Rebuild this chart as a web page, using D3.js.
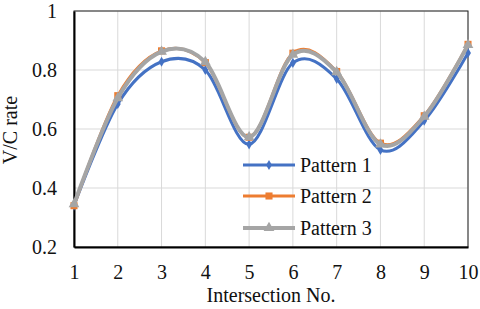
<!DOCTYPE html>
<html><head><meta charset="utf-8">
<script src="https://cdn.jsdelivr.net/npm/d3@7"></script>
<style>body{margin:0;background:#fff}svg{display:block}</style>
</head><body><svg id="c" width="480" height="309"></svg>
<script>
const intersections = [1,2,3,4,5,6,7,8,9,10];
const pattern1 = [0.34,0.685,0.828,0.80,0.548,0.824,0.77,0.529,0.628,0.858];
const pattern2 = [0.34,0.713,0.865,0.825,0.572,0.857,0.795,0.552,0.645,0.887];
const pattern3 = [0.345,0.705,0.862,0.827,0.572,0.852,0.793,0.548,0.642,0.885];
const yTicks = [0.2,0.4,0.6,0.8,1];
const seriesNames = ["Pattern 1","Pattern 2","Pattern 3"];
const colors = ["#4472C4","#ED7D31","#A5A5A5"];
const FONT = "Liberation Serif";

const svg = d3.select("#c");
const x = d3.scaleLinear().domain([1,10]).range([74,468]);
const y = d3.scaleLinear().domain([0.2,1]).range([247,11]);

// gridlines
svg.append("g").selectAll("line").data(intersections.slice(1)).join("line")
  .attr("x1",d=>x(d)).attr("x2",d=>x(d)).attr("y1",y(1)).attr("y2",y(0.2))
  .attr("stroke","#d9d9d9").attr("stroke-width",1);
svg.append("g").selectAll("line").data(yTicks.slice(1)).join("line")
  .attr("x1",x(1)).attr("x2",x(10)).attr("y1",d=>y(d)).attr("y2",d=>y(d))
  .attr("stroke","#d9d9d9").attr("stroke-width",1);
// border
svg.append("rect").attr("x",x(1)).attr("y",y(1)).attr("width",x(10)-x(1)).attr("height",y(0.2)-y(1))
  .attr("fill","none").attr("stroke","#222").attr("stroke-width",1);

// axes
const xAxis = d3.axisBottom(x).tickValues(intersections).tickSize(0).tickPadding(18).tickFormat(d3.format("d"));
const gx = svg.append("g").attr("transform",`translate(0,${y(0.2)})`).call(xAxis)
  .attr("font-family",FONT).attr("font-size",20);
gx.select(".domain").attr("stroke","#000").attr("stroke-width",2);
gx.selectAll("text").attr("fill","#111");
const yAxis = d3.axisLeft(y).tickValues(yTicks).tickSize(0).tickPadding(17).tickFormat(d=>d===1?"1":d3.format(".1f")(d));
const gy = svg.append("g").attr("transform",`translate(${x(1)},0)`).call(yAxis)
  .attr("font-family",FONT).attr("font-size",20);
gy.select(".domain").attr("stroke","#000").attr("stroke-width",2);
gy.selectAll("text").attr("fill","#111");

svg.append("text").attr("x",271).attr("y",302).attr("text-anchor","middle")
  .attr("font-family",FONT).attr("font-size",20).attr("fill","#111").text("Intersection No.");
svg.append("text").attr("transform","translate(17,130) rotate(-90)").attr("text-anchor","middle")
  .attr("font-family",FONT).attr("font-size",20).attr("fill","#111").text("V/C rate");

const data = [pattern1,pattern2,pattern3];
const line = d3.line().x((d,i)=>x(intersections[i])).y(d=>y(d)).curve(d3.curveCardinal.tension(0));
const widths = [3,3,4];
const symbols = [d3.symbolDiamond,d3.symbolSquare,d3.symbolTriangle];
const symSizes = [30,50,50];
data.forEach((s,k)=>{
  svg.append("path").datum(s).attr("d",line).attr("fill","none").attr("stroke",colors[k]).attr("stroke-width",widths[k]);
  svg.append("g").selectAll("path").data(s).join("path")
    .attr("transform",(d,i)=>`translate(${x(intersections[i])},${y(d)})`)
    .attr("d",d3.symbol().type(symbols[k]).size(symSizes[k])).attr("fill",colors[k]);
});

// legend
const lg = svg.append("g");
const ly = [165,196,228];
seriesNames.forEach((n,k)=>{
  lg.append("line").attr("x1",243).attr("x2",295).attr("y1",ly[k]).attr("y2",ly[k]).attr("stroke",colors[k]).attr("stroke-width",widths[k]);
  lg.append("path").attr("transform",`translate(269,${ly[k]})`).attr("d",d3.symbol().type(symbols[k]).size(symSizes[k])).attr("fill",colors[k]);
  lg.append("text").attr("x",300).attr("y",ly[k]).attr("dy","0.35em")
    .attr("font-family",FONT).attr("font-size",20).attr("fill","#111").text(n);
});
</script></body></html>
